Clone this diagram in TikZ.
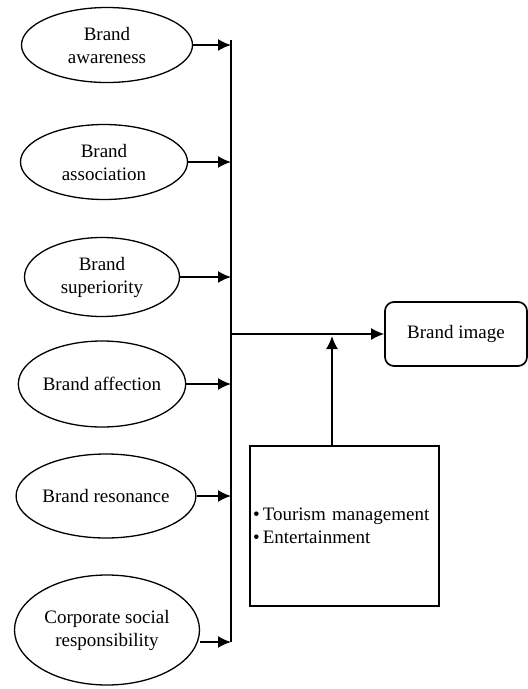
\documentclass[tikz,border=0pt]{standalone}
\usepackage{fontspec}
\setmainfont{Liberation Serif}
\usetikzlibrary{shapes.geometric,arrows.meta}
\begin{document}
\begin{tikzpicture}[x=1pt,y=-1pt,
  font=\fontsize{19}{23}\selectfont,
  oval/.style={draw,ellipse,line width=1.3pt,inner sep=0pt,align=center},
  arr/.style={line width=1.7pt,-{Latex[length=13pt,width=12pt]}},
  bus/.style={line width=1.7pt}]
\useasboundingbox (0,0) rectangle (528,689);
\node[oval,minimum width=171pt,minimum height=75pt] (e1) at (107,45) {Brand\\awareness};
\node[oval,minimum width=167pt,minimum height=75pt] (e2) at (104,162) {Brand\\association};
\node[oval,minimum width=155pt,minimum height=79pt] (e3) at (102,277) {Brand\\superiority};
\node[oval,minimum width=163pt,minimum height=86pt] (e4) at (102,384) {Brand affection};
\node[oval,minimum width=163pt,minimum height=84pt] (e5) at (106,496) {Brand resonance};
\node[oval,minimum width=185pt,minimum height=110pt] (e6) at (107,630) {Corporate social\\responsibility};
\coordinate (bt) at (231,40);
\coordinate (bb) at (231,642);
\draw[bus] (bt) -- (bb);
\draw[arr] (e1.east) -- (e1.east -| bt);
\draw[arr] (e2.east) -- (e2.east -| bt);
\draw[arr] (e3.east) -- (e3.east -| bt);
\draw[arr] (e4.east) -- (e4.east -| bt);
\draw[arr] (e5.east) -- (e5.east -| bt);
\draw[arr] (e6.east |- bb) -- (bb);
\node[draw,line width=1.7pt,rounded corners=9pt,minimum width=142pt,minimum height=64pt] (bi) at (456,334) {Brand image};
\draw[arr] (bi.west -| bt) -- (bi.west);
\node[draw,line width=1.7pt,minimum width=189pt,minimum height=160pt,text width=183pt,inner xsep=3pt,align=left] (tb) at (344.5,526) {\textbullet\,Tourism management\\\textbullet\,Entertainment};
\coordinate (up) at (332,336);
\draw[arr] (tb.north -| up) -- (up);
\end{tikzpicture}
\end{document}
